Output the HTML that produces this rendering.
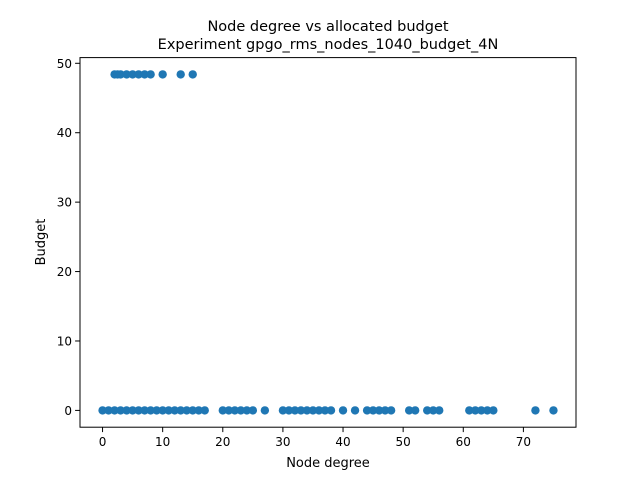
<!DOCTYPE html>
<html><head><meta charset="utf-8"><style>
body{margin:0;background:#fff;font-family:"Liberation Sans","DejaVu Sans",sans-serif}
</style></head><body>
<svg id="chart" width="640" height="480" xmlns="http://www.w3.org/2000/svg" font-family="DejaVu Sans, Liberation Sans, sans-serif">
<rect width="640" height="480" fill="#fff"/>
<text x="328" y="31" text-anchor="middle" font-size="14.5">Node degree vs allocated budget</text>
<text x="328" y="49" text-anchor="middle" font-size="14.5">Experiment gpgo_rms_nodes_1040_budget_4N</text>
<g id="marks"></g>
<rect x="80" y="57.6" width="496" height="369.6" fill="none" stroke="#000" stroke-width="1"/>
<g id="axes"></g>
<text x="328" y="467" text-anchor="middle" font-size="13">Node degree</text>
<text transform="translate(45,242) rotate(-90)" text-anchor="middle" font-size="13">Budget</text>
</svg>
<script>
const lowDegrees=[0,1,2,3,4,5,6,7,8,9,10,11,12,13,14,15,16,17,20,21,22,23,24,25,27,30,31,32,33,34,35,36,37,38,40,42,44,45,46,47,48,51,52,54,55,56,61,62,63,64,65,72,75];
const lowBudget=0;
const highDegrees=[2,2.5,3,4,5,6,7,8,10,13,15];
const highBudget=48.4;
const xTicks=[0,10,20,30,40,50,60,70];
const yTicks=[0,10,20,30,40,50];
const xMin=-3.75,xMax=78.75,yMin=-2.42,yMax=50.82;
const L=80,R=576,T=57.6,B=427.2;
const sx=v=>L+(v-xMin)/(xMax-xMin)*(R-L);
const sy=v=>B-(v-yMin)/(yMax-yMin)*(B-T);
const NS="http://www.w3.org/2000/svg";
const marks=document.getElementById('marks'),axes=document.getElementById('axes');
function pt(x,y){const c=document.createElementNS(NS,'circle');
c.setAttribute('cx',sx(x));c.setAttribute('cy',sy(y));c.setAttribute('r',4.2);c.setAttribute('fill','#1f77b4');


marks.appendChild(c);}
lowDegrees.forEach(d=>pt(d,lowBudget));
highDegrees.forEach(d=>pt(d,highBudget));
xTicks.forEach(t=>{const x=sx(t);
const l=document.createElementNS(NS,'line');l.setAttribute('x1',x);l.setAttribute('x2',x);l.setAttribute('y1',B);l.setAttribute('y2',B+4.9);l.setAttribute('stroke','#000');


axes.appendChild(l);
const s=document.createElementNS(NS,'text');s.setAttribute('x',x);s.setAttribute('y',B+19);s.setAttribute('text-anchor','middle');s.setAttribute('font-size','12');s.textContent=t;


axes.appendChild(s);});
yTicks.forEach(t=>{const y=sy(t);
const l=document.createElementNS(NS,'line');l.setAttribute('x1',L-4.9);l.setAttribute('x2',L);l.setAttribute('y1',y);l.setAttribute('y2',y);l.setAttribute('stroke','#000');


axes.appendChild(l);
const s=document.createElementNS(NS,'text');s.setAttribute('x',L-8);s.setAttribute('y',y+4.5);s.setAttribute('text-anchor','end');s.setAttribute('font-size','12');s.textContent=t;


axes.appendChild(s);});
</script>
</body></html>
